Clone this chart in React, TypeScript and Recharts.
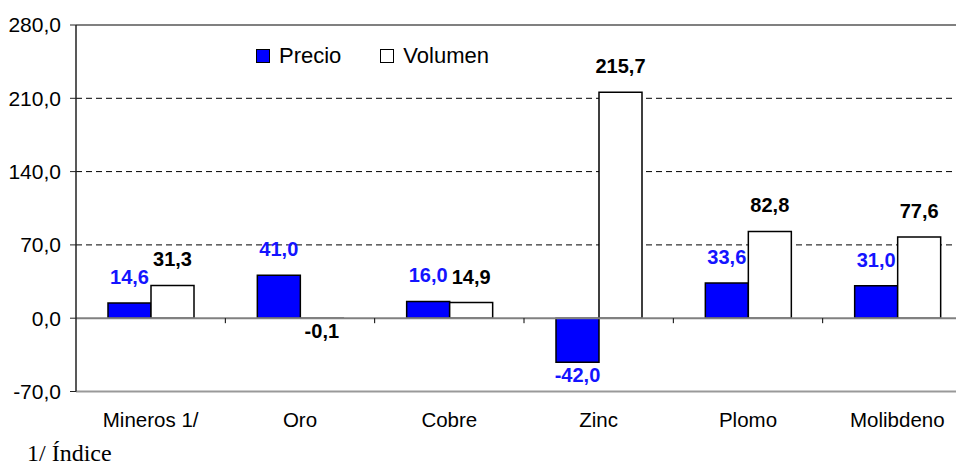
import React from 'react';
import {
  BarChart,
  Bar,
  XAxis,
  YAxis,
  CartesianGrid,
  ReferenceLine,
  Legend,
  LabelList,
} from 'recharts';

const categories = ['Mineros 1/', 'Oro', 'Cobre', 'Zinc', 'Plomo', 'Molibdeno'];
const precio = [14.6, 41.0, 16.0, -42.0, 33.6, 31.0];
const volumen = [31.3, -0.1, 14.9, 215.7, 82.8, 77.6];
const yTicks = [-70, 0, 70, 140, 210, 280];

const data = categories.map((name, i) => ({
  name,
  precio: precio[i],
  volumen: volumen[i],
}));

const SANS = '"Liberation Sans", Arial, sans-serif';
const fmt = (v: number) => v.toFixed(1).replace('.', ',');

const makeLabel = (color: string) => (props: any) => {
  const { x, y, width, height, value } = props;
  const top = Math.min(y, y + height);
  const bottom = Math.max(y, y + height);
  const ty = value < 0 ? bottom + 20 : top - 19;
  return (
    <text
      x={x + width / 2}
      y={ty}
      textAnchor="middle"
      fill={color}
      fontSize={20}
      fontWeight="bold"
      fontFamily={SANS}
    >
      {fmt(value)}
    </text>
  );
};

// zero line with the small category separators hanging below it
const ZeroLine = (props: any) => {
  const { x1, y1, x2 } = props;
  const step = (x2 - x1) / categories.length;
  return (
    <g>
      <line x1={x1} y1={y1} x2={x2} y2={y1} stroke="#808080" strokeWidth={2} />
      {categories.slice(1).map((c, i) => (
        <line
          key={c}
          x1={x1 + step * (i + 1)}
          x2={x1 + step * (i + 1)}
          y1={y1}
          y2={y1 + 5}
          stroke="#000"
          strokeWidth={1}
        />
      ))}
    </g>
  );
};

const renderLegend = (props: any) => {
  const items = props.payload || [];
  return (
    <div style={{ display: 'flex', fontFamily: SANS, fontSize: 22, lineHeight: '26px' }}>
      {items.map((it: any) => (
        <div key={it.value} style={{ display: 'flex', alignItems: 'center', marginRight: 39 }}>
          <span
            style={{
              width: 12,
              height: 12,
              border: '1.5px solid #000',
              background: it.color,
              marginRight: 9,
              display: 'inline-block',
            }}
          />
          <span>{it.value}</span>
        </div>
      ))}
    </div>
  );
};

export default function App() {
  return (
    <div
      style={{
        position: 'absolute',
        left: 0,
        top: 0,
        width: 956,
        height: 466,
        overflow: 'hidden',
        background: '#fff',
      }}
    >
      <BarChart
        width={972}
        height={466}
        data={data}
        margin={{ top: 25, right: 0, left: 0, bottom: 0 }}
        barGap={0}
      >
        <CartesianGrid
          vertical={false}
          horizontalValues={[70, 140, 210]}
          stroke="#000"
          strokeDasharray="6 4"
        />
        <ReferenceLine y={280} stroke="#808080" strokeWidth={2} />
        <XAxis
          dataKey="name"
          height={74.5}
          tickLine={false}
          tickSize={6}
          tickMargin={15}
          axisLine={{ stroke: '#999', strokeWidth: 2 }}
          tick={{ fontSize: 20.5, fill: '#000', fontFamily: SANS }}
        />
        <YAxis
          width={76}
          domain={[-70, 280]}
          ticks={yTicks}
          tickFormatter={fmt}
          tickSize={6}
          tickMargin={9}
          axisLine={{ stroke: '#222', strokeWidth: 1.5 }}
          tickLine={{ stroke: '#222' }}
          tick={{ fontSize: 21, fill: '#000', fontFamily: SANS }}
        />
        <Legend
          content={renderLegend}
          layout="horizontal"
          verticalAlign="middle"
          align="center"
          wrapperStyle={{ top: 43, left: 256, width: 'auto' }}
        />
        <Bar
          dataKey="precio"
          name="Precio"
          fill="#0000ff"
          stroke="#000"
          strokeWidth={1.5}
          barSize={43}
          isAnimationActive={false}
        >
          <LabelList dataKey="precio" content={makeLabel('#1414ff')} />
        </Bar>
        <Bar
          dataKey="volumen"
          name="Volumen"
          fill="#ffffff"
          stroke="#000"
          strokeWidth={1.5}
          barSize={43}
          isAnimationActive={false}
        >
          <LabelList dataKey="volumen" content={makeLabel('#000')} />
        </Bar>
        <ReferenceLine y={0} shape={ZeroLine} />
      </BarChart>
      <div
        style={{
          position: 'absolute',
          left: 27,
          top: 441,
          fontFamily: '"Liberation Serif", "Times New Roman", serif',
          fontSize: 24,
          lineHeight: '24px',
          whiteSpace: 'nowrap',
        }}
      >
        1/ Índice
      </div>
    </div>
  );
}
